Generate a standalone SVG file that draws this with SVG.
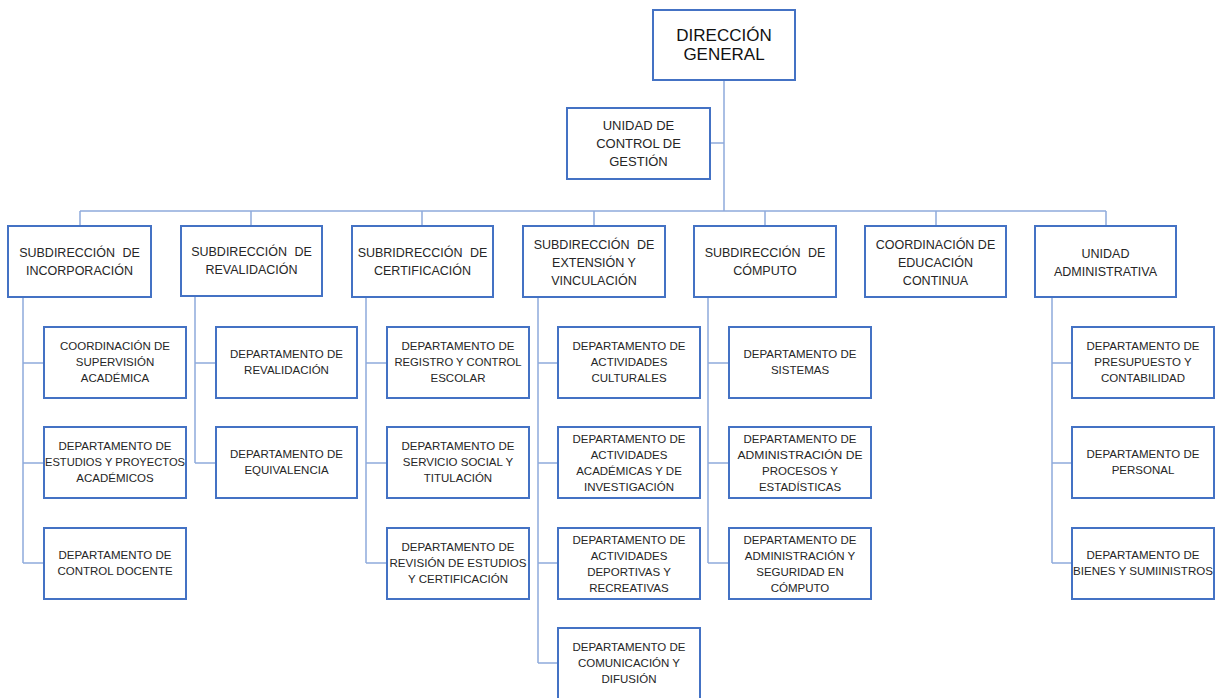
<svg xmlns="http://www.w3.org/2000/svg" width="1215" height="698" viewBox="0 0 1215 698">
<style>
.box{fill:#fff;stroke:#4472C4;stroke-width:2}
.ln{fill:none;stroke:#8FAADC;stroke-width:1.5}
text{font-family:"Liberation Sans",Arial,sans-serif;fill:#262626;text-anchor:middle}
.t0{font-size:17px;fill:#111}
.t1{font-size:12.5px}
.t2{font-size:11.5px}
.ws{word-spacing:4px}
</style>
<rect width="1215" height="698" fill="#fff"/>
<g id="connectors" class="ln">
<path d="M724 80V211M710 143H724M80 211H1106"/>
<path d="M80 211V226M251 211V226M422 211V226M594 211V226M765 211V226M936 211V226M1106 211V226"/>
<path d="M23 297V563M23 363H44M23 463H44M23 563H44"/>
<path d="M195 297V463M195 363H216M195 463H216"/>
<path d="M366 297V563M366 363H387M366 463H387M366 563H387"/>
<path d="M538 297V663M538 363H558M538 463H558M538 563H558M538 663H558"/>
<path d="M708 297V563M708 363H729M708 463H729M708 563H729"/>
<path d="M1052 297V563M1052 363H1072M1052 463H1072M1052 563H1072"/>
</g>
<g id="direccion-general"><rect class="box" x="653" y="10" width="142" height="70"/>
<text class="t0" x="724" y="41">DIRECCIÓN</text><text class="t0" x="724" y="60">GENERAL</text></g>
<g id="unidad-control"><rect class="box" x="567" y="108" width="143" height="71"/>
<text class="t1" x="638.5" y="130" style="font-size:13px">UNIDAD DE</text><text class="t1" x="638.5" y="148" style="font-size:13px">CONTROL DE</text><text class="t1" x="638.5" y="166" style="font-size:13px">GESTIÓN</text></g>

<g id="sub-incorporacion"><rect class="box" x="8" y="226" width="143" height="71"/>
<text class="t1 ws" x="79.5" y="257">SUBDIRECCIÓN DE</text><text class="t1" x="79.5" y="275">INCORPORACIÓN</text></g>
<g id="sub-revalidacion"><rect class="box" x="181" y="226" width="141" height="70"/>
<text class="t1 ws" x="251.5" y="256">SUBDIRECCIÓN DE</text><text class="t1" x="251.5" y="274">REVALIDACIÓN</text></g>
<g id="sub-certificacion"><rect class="box" x="352" y="226" width="141" height="71"/>
<text class="t1 ws" x="422.5" y="257">SUBRIDRECCIÓN DE</text><text class="t1" x="422.5" y="275">CERTIFICACIÓN</text></g>
<g id="sub-extension"><rect class="box" x="523" y="226" width="142" height="71"/>
<text class="t1 ws" x="594" y="249">SUBDIRECCIÓN DE</text><text class="t1" x="594" y="267">EXTENSIÓN Y</text><text class="t1" x="594" y="285">VINCULACIÓN</text></g>
<g id="sub-computo"><rect class="box" x="694" y="226" width="142" height="71"/>
<text class="t1 ws" x="765" y="257">SUBDIRECCIÓN DE</text><text class="t1" x="765" y="275">CÓMPUTO</text></g>
<g id="coord-educacion"><rect class="box" x="865" y="226" width="141" height="71"/>
<text class="t1" x="935.5" y="249">COORDINACIÓN DE</text><text class="t1" x="935.5" y="267">EDUCACIÓN</text><text class="t1" x="935.5" y="285">CONTINUA</text></g>
<g id="unidad-administrativa"><rect class="box" x="1035" y="226" width="141" height="71"/>
<text class="t1" x="1105.5" y="258">UNIDAD</text><text class="t1" x="1105.5" y="276">ADMINISTRATIVA</text></g>

<g id="coord-supervision"><rect class="box" x="44" y="327" width="142" height="71"/>
<text class="t2" x="115" y="350">COORDINACIÓN DE</text><text class="t2" x="115" y="366">SUPERVISIÓN</text><text class="t2" x="115" y="382">ACADÉMICA</text></g>
<g id="dep-estudios"><rect class="box" x="44" y="427" width="142" height="71"/>
<text class="t2" x="115" y="450">DEPARTAMENTO DE</text><text class="t2" x="115" y="466" textLength="140" lengthAdjust="spacingAndGlyphs">ESTUDIOS Y PROYECTOS</text><text class="t2" x="115" y="482">ACADÉMICOS</text></g>
<g id="dep-control-docente"><rect class="box" x="44" y="528" width="142" height="71"/>
<text class="t2" x="115" y="559">DEPARTAMENTO DE</text><text class="t2" x="115" y="575">CONTROL DOCENTE</text></g>

<g id="dep-revalidacion"><rect class="box" x="216" y="327" width="141" height="71"/>
<text class="t2" x="286.5" y="358">DEPARTAMENTO DE</text><text class="t2" x="286.5" y="374">REVALIDACIÓN</text></g>
<g id="dep-equivalencia"><rect class="box" x="216" y="427" width="141" height="71"/>
<text class="t2" x="286.5" y="458">DEPARTAMENTO DE</text><text class="t2" x="286.5" y="474">EQUIVALENCIA</text></g>

<g id="dep-registro"><rect class="box" x="387" y="327" width="142" height="71"/>
<text class="t2" x="458" y="350">DEPARTAMENTO DE</text><text class="t2" x="458" y="366" textLength="127" lengthAdjust="spacingAndGlyphs">REGISTRO Y CONTROL</text><text class="t2" x="458" y="382">ESCOLAR</text></g>
<g id="dep-servicio"><rect class="box" x="387" y="427" width="142" height="71"/>
<text class="t2" x="458" y="450">DEPARTAMENTO DE</text><text class="t2" x="458" y="466">SERVICIO SOCIAL Y</text><text class="t2" x="458" y="482">TITULACIÓN</text></g>
<g id="dep-revision"><rect class="box" x="387" y="528" width="142" height="71"/>
<text class="t2" x="458" y="551">DEPARTAMENTO DE</text><text class="t2" x="458" y="567" textLength="137" lengthAdjust="spacingAndGlyphs">REVISIÓN DE ESTUDIOS</text><text class="t2" x="458" y="583">Y CERTIFICACIÓN</text></g>

<g id="dep-culturales"><rect class="box" x="558" y="327" width="142" height="71"/>
<text class="t2" x="629" y="350">DEPARTAMENTO DE</text><text class="t2" x="629" y="366">ACTIVIDADES</text><text class="t2" x="629" y="382">CULTURALES</text></g>
<g id="dep-academicas"><rect class="box" x="558" y="427" width="142" height="71"/>
<text class="t2" x="629" y="443">DEPARTAMENTO DE</text><text class="t2" x="629" y="459">ACTIVIDADES</text><text class="t2" x="629" y="475">ACADÉMICAS  Y DE</text><text class="t2" x="629" y="491">INVESTIGACIÓN</text></g>
<g id="dep-deportivas"><rect class="box" x="558" y="528" width="142" height="71"/>
<text class="t2" x="629" y="544">DEPARTAMENTO DE</text><text class="t2" x="629" y="560">ACTIVIDADES</text><text class="t2" x="629" y="576">DEPORTIVAS Y</text><text class="t2" x="629" y="592">RECREATIVAS</text></g>
<g id="dep-comunicacion"><rect class="box" x="558" y="628" width="142" height="71"/>
<text class="t2" x="629" y="651">DEPARTAMENTO DE</text><text class="t2" x="629" y="667">COMUNICACIÓN Y</text><text class="t2" x="629" y="683">DIFUSIÓN</text></g>

<g id="dep-sistemas"><rect class="box" x="729" y="327" width="142" height="71"/>
<text class="t2" x="800" y="358">DEPARTAMENTO DE</text><text class="t2" x="800" y="374">SISTEMAS</text></g>
<g id="dep-procesos"><rect class="box" x="729" y="427" width="142" height="71"/>
<text class="t2" x="800" y="443">DEPARTAMENTO DE</text><text class="t2" x="800" y="459" textLength="125" lengthAdjust="spacingAndGlyphs">ADMINISTRACIÓN DE</text><text class="t2" x="800" y="475">PROCESOS Y</text><text class="t2" x="800" y="491">ESTADÍSTICAS</text></g>
<g id="dep-seguridad"><rect class="box" x="729" y="528" width="142" height="71"/>
<text class="t2" x="800" y="544">DEPARTAMENTO DE</text><text class="t2" x="800" y="560">ADMINISTRACIÓN Y</text><text class="t2" x="800" y="576">SEGURIDAD EN</text><text class="t2" x="800" y="592">CÓMPUTO</text></g>

<g id="dep-presupuesto"><rect class="box" x="1072" y="327" width="142" height="71"/>
<text class="t2" x="1143" y="350">DEPARTAMENTO DE</text><text class="t2" x="1143" y="366">PRESUPUESTO Y</text><text class="t2" x="1143" y="382">CONTABILIDAD</text></g>
<g id="dep-personal"><rect class="box" x="1072" y="427" width="142" height="71"/>
<text class="t2" x="1143" y="458">DEPARTAMENTO DE</text><text class="t2" x="1143" y="474">PERSONAL</text></g>
<g id="dep-bienes"><rect class="box" x="1072" y="528" width="142" height="71"/>
<text class="t2" x="1143" y="559">DEPARTAMENTO DE</text><text class="t2" x="1143" y="575" textLength="140" lengthAdjust="spacingAndGlyphs">BIENES Y SUMIINISTROS</text></g>
</svg>
